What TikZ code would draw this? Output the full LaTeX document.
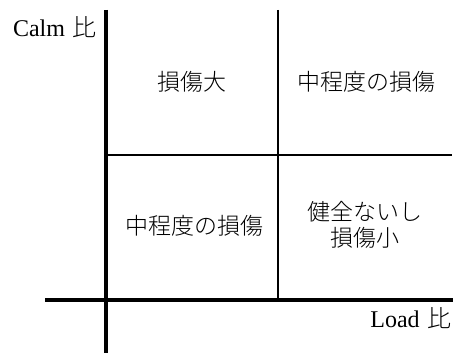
\documentclass[tikz,border=0pt]{standalone}
\usepackage{fontspec}
\setmainfont{Liberation Serif}
\newfontfamily\jp{Noto Sans CJK JP Light}
\begin{document}
\begin{tikzpicture}[x=1pt,y=-1pt,
  axis/.style={line width=4pt},
  grid/.style={line width=1.1pt},
  jptext/.style={font=\jp\fontsize{23}{26}\selectfont, inner sep=0pt, align=center},
  latlabel/.style={font=\fontsize{24}{26}\selectfont, inner sep=0pt}]
\useasboundingbox (0,0) rectangle (460,353);
% coordinates
\coordinate (vtop) at (106,10);
\coordinate (vbot) at (106,353);
\coordinate (hleft) at (45,300);
\coordinate (hright) at (453,300);
\coordinate (mtop) at (278,10);
\coordinate (mbot) at (278,300);
\coordinate (gleft) at (106,155);
\coordinate (gright) at (452,155);
% grid lines
\draw[grid] (mtop) -- (mbot);
\draw[grid] (gleft) -- (gright);
% axes
\draw[axis] (vtop) -- (vbot);
\draw[axis] (hleft) -- (hright);
% quadrant texts
\node[jptext] (q1) at (192,82) {損傷大};
\node[jptext] (q2) at (366,82) {中程度の損傷};
\node[jptext] (q3) at (194,226) {中程度の損傷};
\node[jptext] (q4) at (365,225) {健全ないし\\損傷小};
% axis labels
\node[latlabel] (ylab) at (55,27) {Calm\hspace{8pt}{\jp 比}};
\node[latlabel] (xlab) at (411,318) {Load\hspace{8pt}{\jp 比}};
\end{tikzpicture}
\end{document}
